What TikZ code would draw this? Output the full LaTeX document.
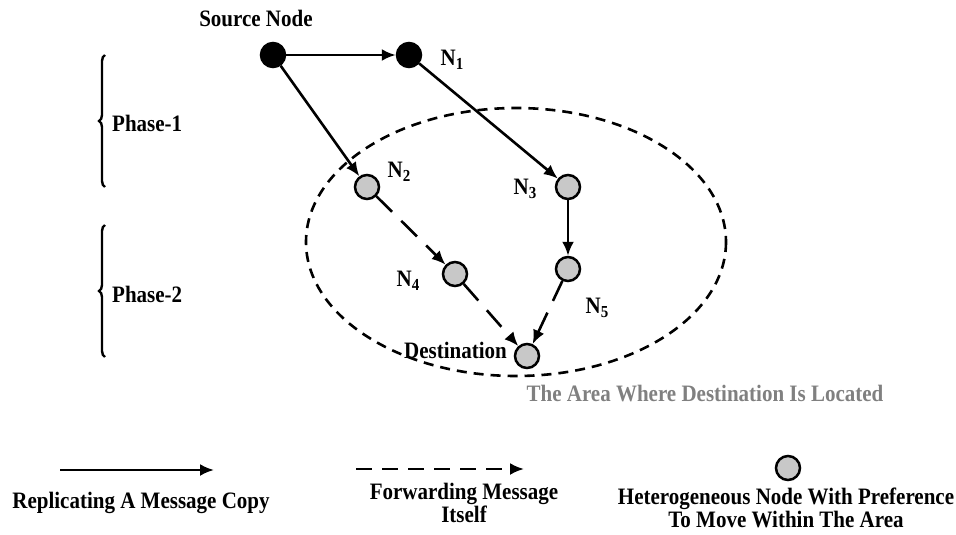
\documentclass[tikz,border=0pt]{standalone}
\usepackage{fontspec}
\setmainfont{Liberation Serif}
\usetikzlibrary{arrows.meta,decorations.pathreplacing}
\definecolor{nodegray}{RGB}{200,200,200}
\definecolor{areagray}{RGB}{128,128,128}
\newcommand\nsub[1]{\raisebox{-0.35ex}{\fontsize{15}{15}\selectfont #1}}
\newcommand\tallt[1]{\scalebox{1}[1.12]{#1}}
\tikzset{
  blk/.style={circle,fill=black,draw=black,line width=1.5pt,minimum size=25pt,inner sep=0pt},
  gry/.style={circle,fill=nodegray,draw=black,line width=2.5pt,minimum size=24pt,inner sep=0pt},
  lbl/.style={font=\bfseries\fontsize{21}{24}\selectfont,inner sep=0pt},
  copyarrow/.style={line width=2.6pt,-{Latex[length=14pt,width=12pt]}},
  fwdarrow/.style={line width=2.6pt,dash pattern=on 22pt off 13pt,-{Latex[length=14pt,width=12pt]}},
}
\begin{document}
\begin{tikzpicture}[x=1pt,y=-1pt]
\useasboundingbox (0,0) rectangle (956,535);
% area
\draw[line width=2.6pt,dash pattern=on 10pt off 7pt] (516,242) ellipse [x radius=210, y radius=134];
\node[lbl,text=areagray] (area) at (705,394) {\tallt{The Area Where Destination Is Located}};
% nodes
\node[blk] (src) at (273,55) {};
\node[blk] (n1) at (409,55) {};
\node[gry] (n2) at (367,187) {};
\node[gry] (n3) at (568,187) {};
\node[gry] (n4) at (455,274) {};
\node[gry] (n5) at (568,269) {};
\node[gry] (dst) at (527,356) {};
% labels
\node[lbl] (srcl) at (256,18) {\tallt{Source Node}};
\node[lbl] (n1l) at (452,60) {\tallt{N\nsub{1}}};
\node[lbl] (n2l) at (399,172) {\tallt{N\nsub{2}}};
\node[lbl] (n3l) at (525,189) {\tallt{N\nsub{3}}};
\node[lbl] (n4l) at (408,281) {\tallt{N\nsub{4}}};
\node[lbl] (n5l) at (597,308) {\tallt{N\nsub{5}}};
\node[lbl,anchor=east] (dstl) at (507,350) {\tallt{Destination}};
% edges
\draw[copyarrow] (src) -- (n1);
\draw[copyarrow] (src) -- (n2);
\draw[copyarrow] (n1) -- (n3);
\draw[copyarrow] (n3) -- (n5);
\draw[fwdarrow] (n2) -- (n4);
\draw[fwdarrow] (n4) -- (dst);
\draw[fwdarrow] (n5) -- (dst);
% phases
\coordinate (b1t) at (105,55);
\coordinate (b1b) at (105,187);
\coordinate (b2t) at (105,225);
\coordinate (b2b) at (105,357);
\draw[line width=2.4pt,decorate,decoration={brace,amplitude=6pt}] (b1b) -- (b1t);
\draw[line width=2.4pt,decorate,decoration={brace,amplitude=6pt}] (b2b) -- (b2t);
\node[lbl,anchor=west] (p1) at (112,123) {\tallt{Phase-1}};
\node[lbl,anchor=west] (p2) at (112,294) {\tallt{Phase-2}};
% legend
\coordinate (l1a) at (60,470);
\coordinate (l1b) at (214,470);
\coordinate (l2a) at (356,469);
\coordinate (l2b) at (524,469);
\draw[line width=2.6pt,-{Latex[length=14pt,width=12pt]}] (l1a) -- (l1b);
\draw[line width=2.6pt,dash pattern=on 16pt off 10pt,-{Latex[length=14pt,width=12pt]}] (l2a) -- (l2b);
\node[gry] (lg) at (788,468) {};
\node[lbl] (t1) at (141,503) {\tallt{Replicating A Message Copy}};
\node[lbl,align=center] (t2) at (464,503) {\tallt{Forwarding Message}\\[-1pt]\tallt{Itself}};
\node[lbl,align=center] (t3) at (786,508) {\tallt{Heterogeneous Node With Preference}\\[-1pt]\tallt{To Move Within The Area}};
\end{tikzpicture}
\end{document}
